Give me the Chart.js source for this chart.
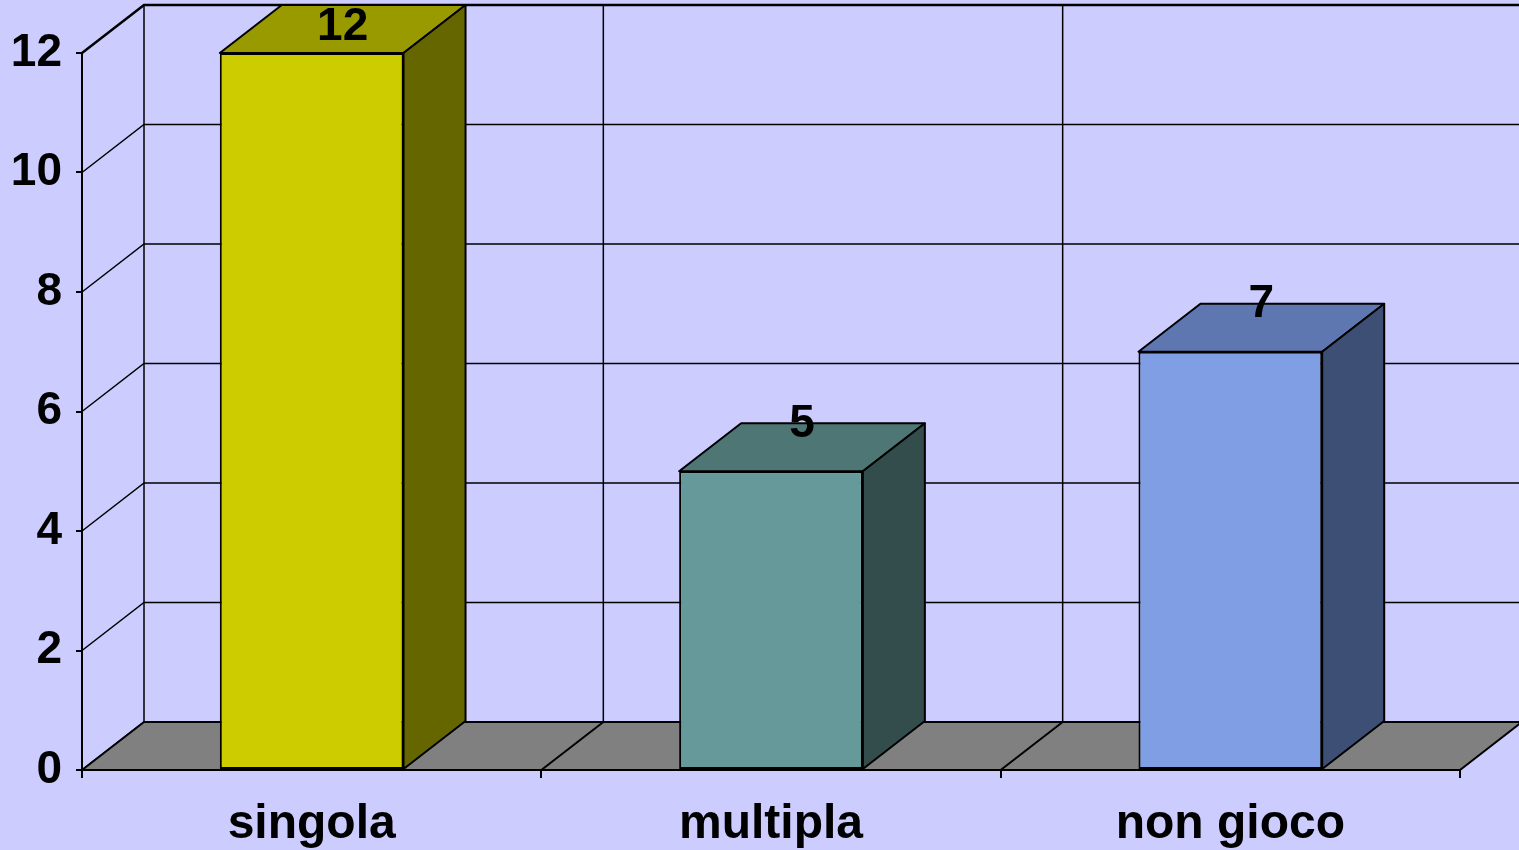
<!DOCTYPE html>
<html>
<head>
<meta charset="utf-8">
<script src="https://cdn.jsdelivr.net/npm/chart.js@4"></script>
<style>
  body { margin: 0; background: #CCCCFF; }
  canvas { display: block; }
</style>
</head>
<body>
<canvas id="grafico" width="1519" height="850"></canvas>
<script>
const categorie = ['singola', 'multipla', 'non gioco'];
const valori = [12, 5, 7];
const coloriFronte = ['#CCCC00', '#669999', '#7F9EE3'];
const coloriSopra = ['#999900', '#4D7674', '#5F77B0'];
const coloriLato = ['#666600', '#334D4D', '#3E4F76'];
const tickY = [0, 2, 4, 6, 8, 10, 12];

// profondità della prospettiva 3D
const DX = 62, DY = 48;
const FONT = "'Liberation Sans', Arial, sans-serif";

function poligono(ctx, punti, fill) {
  ctx.beginPath();
  ctx.moveTo(punti[0][0], punti[0][1]);
  for (let i = 1; i < punti.length; i++) ctx.lineTo(punti[i][0], punti[i][1]);
  ctx.closePath();
  if (fill) { ctx.fillStyle = fill; ctx.fill(); }
  ctx.stroke();
}

const effetto3d = {
  id: 'effetto3d',
  beforeDatasetsDraw(chart) {
    const ctx = chart.ctx;
    const a = chart.chartArea;
    const y = chart.scales.y;
    const n = categorie.length;
    const passo = (a.right - a.left) / n;
    ctx.save();
    ctx.strokeStyle = '#000';
    ctx.lineWidth = 1.5;
    // pareti: griglia posteriore e diagonali laterali
    tickY.forEach(v => {
      const yf = y.getPixelForValue(v);
      ctx.lineWidth = v === 12 ? 2.5 : 1.5;
      ctx.beginPath();
      ctx.moveTo(a.left, yf);
      ctx.lineTo(a.left + DX, yf - DY);
      ctx.lineTo(chart.width + 5, yf - DY);
      ctx.stroke();
    });
    ctx.lineWidth = 1.5;
    for (let i = 0; i <= n; i++) {
      const xb = a.left + i * passo + DX;
      ctx.beginPath();
      ctx.moveTo(xb, y.getPixelForValue(12) - DY);
      ctx.lineTo(xb, a.bottom - DY);
      ctx.stroke();
    }
    // pavimento
    ctx.lineWidth = 2;
    poligono(ctx, [[a.left, a.bottom], [a.right, a.bottom], [a.right + DX, a.bottom - DY], [a.left + DX, a.bottom - DY]], '#808080');
    for (let i = 1; i < n; i++) {
      const xb = a.left + i * passo;
      ctx.beginPath();
      ctx.moveTo(xb, a.bottom);
      ctx.lineTo(xb + DX, a.bottom - DY);
      ctx.stroke();
    }
    ctx.restore();
  },
  afterDatasetsDraw(chart) {
    const ctx = chart.ctx;
    const barre = chart.getDatasetMeta(0).data;
    ctx.save();
    ctx.strokeStyle = '#000';
    ctx.lineWidth = 2;
    ctx.lineJoin = 'round';
    barre.forEach((b, i) => {
      const p = b.getProps(['x', 'y', 'base', 'width'], true);
      const l = p.x - p.width / 2, r = p.x + p.width / 2;
      poligono(ctx, [[l, p.y], [r, p.y], [r + DX, p.y - DY], [l + DX, p.y - DY]], coloriSopra[i]);
      poligono(ctx, [[r, p.y], [r + DX, p.y - DY], [r + DX, p.base - DY], [r, p.base]], coloriLato[i]);
    });
    ctx.fillStyle = '#000';
    ctx.font = 'bold 46px ' + FONT;
    ctx.textAlign = 'center';
    ctx.textBaseline = 'middle';
    barre.forEach((b, i) => {
      const p = b.getProps(['x', 'y'], true);
      ctx.fillText(String(valori[i]), p.x + DX / 2, Math.max(p.y - DY + 1, 27));
    });
    ctx.restore();
  }
};

new Chart(document.getElementById('grafico'), {
  type: 'bar',
  data: {
    labels: categorie,
    datasets: [{
      data: valori,
      backgroundColor: coloriFronte,
      borderColor: '#000',
      borderWidth: 2,
      borderSkipped: false,
      barPercentage: 0.4,
      categoryPercentage: 1
    }]
  },
  options: {
    responsive: false,
    animation: false,
    layout: { padding: { top: 53, right: 59, left: 0, bottom: 0 } },
    plugins: { legend: { display: false }, tooltip: { enabled: false } },
    scales: {
      x: {
        afterFit(s) { s.height = 80; },
        grid: { drawOnChartArea: false, tickLength: 8, color: '#000', lineWidth: 2 },
        border: { color: '#000', width: 2 },
        ticks: { color: '#000', padding: 18, font: { family: FONT, size: 48, weight: 'bold' } }
      },
      y: {
        min: 0,
        max: 12,
        afterFit(s) { s.width = 82; },
        grid: { drawOnChartArea: false, tickLength: 6, color: '#000', lineWidth: 2 },
        border: { color: '#000', width: 2 },
        ticks: { stepSize: 2, color: '#000', padding: 14, font: { family: FONT, size: 46, weight: 'bold' } }
      }
    }
  },
  plugins: [effetto3d]
});
</script>
</body>
</html>
